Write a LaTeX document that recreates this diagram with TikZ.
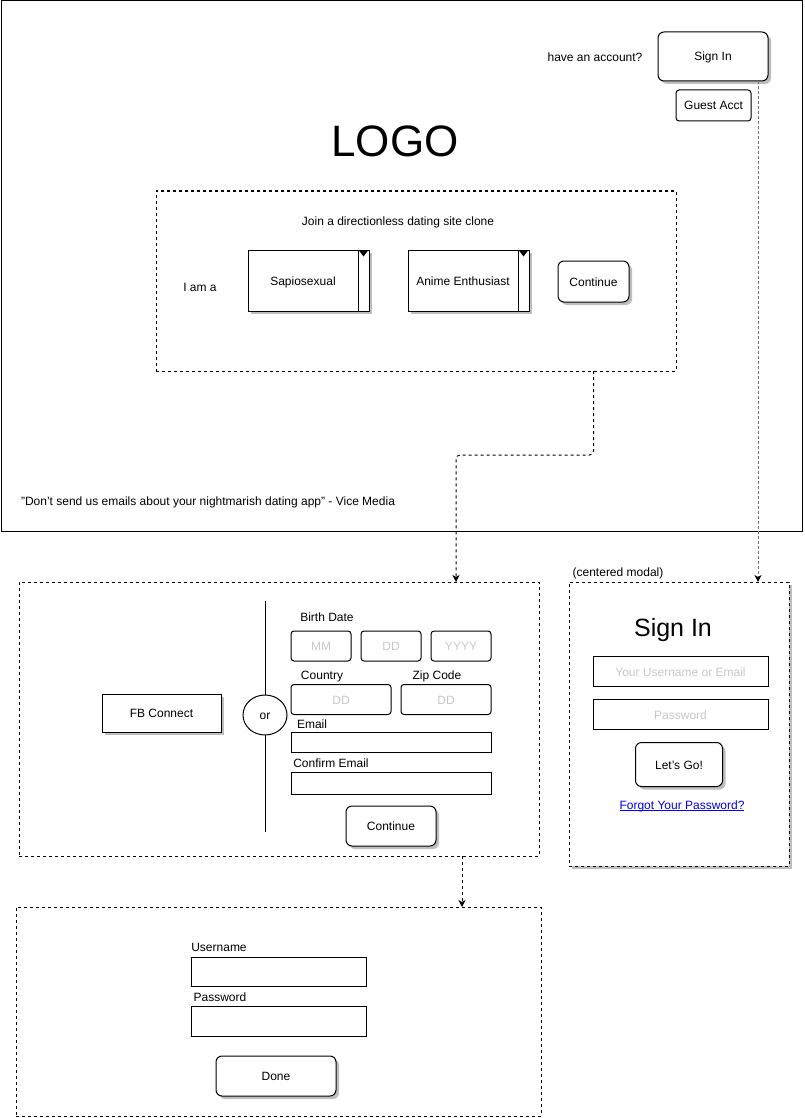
\documentclass[tikz,border=0pt]{standalone}
\usepackage{fontspec}
\setmainfont{Liberation Sans}
\usetikzlibrary{arrows.meta,shadows,shapes.geometric,calc}
\definecolor{hint}{RGB}{200,200,200}
\definecolor{linkblue}{RGB}{0,0,238}
\definecolor{shade}{RGB}{190,190,190}
\newcommand{\sq}{\symbol{39}}
\newcommand{\dq}{\symbol{34}}
% link-style underline drawn just below the baseline
\newcommand{\linkline}[1]{\setbox0\hbox{#1}\rlap{\rule[-1.8pt]{\wd0}{0.9pt}}\box0}

\begin{document}
\begin{tikzpicture}[x=1pt,y=-1pt,
  font=\fontsize{12}{14}\selectfont,
  line width=1pt,
  every node/.style={inner sep=0pt, outer sep=0pt, text height=10.5pt, text depth=1.5pt},
  panel/.style={draw, dash pattern=on 3pt off 3pt},
  shad/.style={drop shadow={shadow xshift=3pt, shadow yshift=-3pt, fill=shade, opacity=1}},
  btn/.style={draw, fill=white, rounded corners=6pt, shad},
  smallbtn/.style={draw, fill=white, rounded corners=3pt},
  dropbox/.style={draw, fill=white, shad},
  field/.style={draw, fill=white},
  roundfield/.style={draw, fill=white, rounded corners=3pt, text=hint},
  label/.style={anchor=center},
  flow/.style={dash pattern=on 3pt off 3pt, -{Stealth[length=7pt, width=7pt, inset=2pt]}},
  flowgray/.style={draw=black!55, dash pattern=on 3pt off 2pt, -{Stealth[length=7pt, width=7pt, inset=2pt, color=black]}}
]
\useasboundingbox (0,0) rectangle (804,1118);

% ---------- landing page ----------
\node[draw, minimum width=801, minimum height=530] (frame) at (401.5,266) {};
\node[label] (haveacc) at (595,57) {have an account?};
\node[btn, minimum width=110, minimum height=49] (signin) at (713,56.5) {Sign In};
\node[smallbtn, minimum width=75, minimum height=31] (guest) at (713.5,105.5) {Guest Acct};
\node[anchor=base, font=\fontsize{44}{50}\selectfont] (logo) at (395,157) {LOGO};

\node[panel, minimum width=520, minimum height=180] (join) at (416,281) {};
\node[label] (jointitle) at (398,221) {Join a directionless dating site clone};
\node[label] (iama) at (200,287) {I am a};

\node[dropbox, minimum width=121, minimum height=61] (sapio) at (308.5,280.5) {};
\node[label] (sapiotxt) at (303,281) {Sapiosexual};
\draw ($(sapio.north east)+(-11,0)$) -- ($(sapio.south east)+(-11,0)$);
\fill ($(sapio.north east)+(-10,0.5)$) -- ($(sapio.north east)+(-1,0.5)$) -- ($(sapio.north east)+(-5.5,6.5)$) -- cycle;

\node[dropbox, minimum width=121, minimum height=61] (anime) at (468.5,280.5) {};
\node[label] (animetxt) at (463,281) {Anime Enthusiast};
\draw ($(anime.north east)+(-11,0)$) -- ($(anime.south east)+(-11,0)$);
\fill ($(anime.north east)+(-10,0.5)$) -- ($(anime.north east)+(-1,0.5)$) -- ($(anime.north east)+(-5.5,6.5)$) -- cycle;

\node[btn, minimum width=71, minimum height=41] (cont1) at (593.5,281.5) {Continue};

\node[label] (quote) at (208,501) {\dq Don\sq t send us emails about your nightmarish dating app\dq{} - Vice Media};

% ---------- sign-up panel ----------
\node[panel, minimum width=520, minimum height=274] (signup) at (279,719) {};
\node[draw, fill=white, ellipse, minimum width=44, minimum height=40] (orc) at (265,715) {or};
\coordinate (divtop) at (265,601);
\coordinate (divbot) at (265,832);
\draw (divtop) -- (orc.north);
\draw (orc.south) -- (divbot);
\node[draw, fill=white, shad, minimum width=119, minimum height=38] (fb) at (161.5,713) {FB Connect};

\node[label] (bdlbl) at (327,617) {Birth Date};
\node[roundfield, minimum width=60, minimum height=30] (mm) at (321,646) {MM};
\node[roundfield, minimum width=60, minimum height=30] (dd) at (391,646) {DD};
\node[roundfield, minimum width=60, minimum height=30] (yyyy) at (461,646) {YYYY};

\node[label] (ctylbl) at (322,675) {Country};
\node[label] (ziplbl) at (437,675) {Zip Code};
\node[roundfield, minimum width=100, minimum height=30] (cty) at (341,699.5) {DD};
\node[roundfield, minimum width=90, minimum height=30] (zip) at (446,699.5) {DD};

\node[label] (emlbl) at (312,724) {Email};
\node[field, minimum width=200, minimum height=20] (email) at (391,742) {};
\node[label] (cemlbl) at (331,763) {Confirm Email};
\node[field, minimum width=200, minimum height=22] (cemail) at (391,783) {};
\node[btn, minimum width=90, minimum height=40] (cont2) at (391,826) {Continue};

% ---------- account panel ----------
\node[panel, minimum width=525, minimum height=209] (acct) at (278.5,1011.5) {};
\node[label] (userlbl) at (219,947) {Username};
\node[field, minimum width=175, minimum height=29] (user) at (278.5,971.5) {};
\node[label] (passlbl) at (220,997) {Password};
\node[field, minimum width=175, minimum height=30] (pass) at (278.5,1021) {};
\node[btn, minimum width=120, minimum height=40] (done) at (276,1076) {Done};

% ---------- sign-in modal ----------
\node[label] (modalnote) at (618,572) {(centered modal)};
\node[panel, fill=white, shad, minimum width=220, minimum height=284] (modal) at (679,724) {};
\node[anchor=base, font=\fontsize{25}{30}\selectfont] (mtitle) at (673,636) {Sign In};
\node[field, text=hint, minimum width=175, minimum height=30] (muser) at (680.5,671.5) {Your Username or Email};
\node[field, text=hint, minimum width=175, minimum height=30] (mpass) at (680.5,714.5) {Password};
\node[btn, minimum width=87, minimum height=44] (go) at (679,764.5) {Let\sq s Go!};
\node[label, text=linkblue] (forgot) at (682,805) {\linkline{Forgot Your Password?}};

% ---------- flow connectors ----------
\coordinate (bend) at (456,455);
\draw[flow, rounded corners=4pt] (cont1 |- join.south) |- (bend) -- (bend |- signup.north);

\coordinate (sdrop) at ($(signin.south east)+(-10,0)$);
\draw[flowgray] (sdrop) -- (sdrop |- modal.north);

\coordinate (cx) at (462,0);
\draw[flow] (signup.south -| cx) -- (acct.north -| cx);
\end{tikzpicture}
\end{document}
